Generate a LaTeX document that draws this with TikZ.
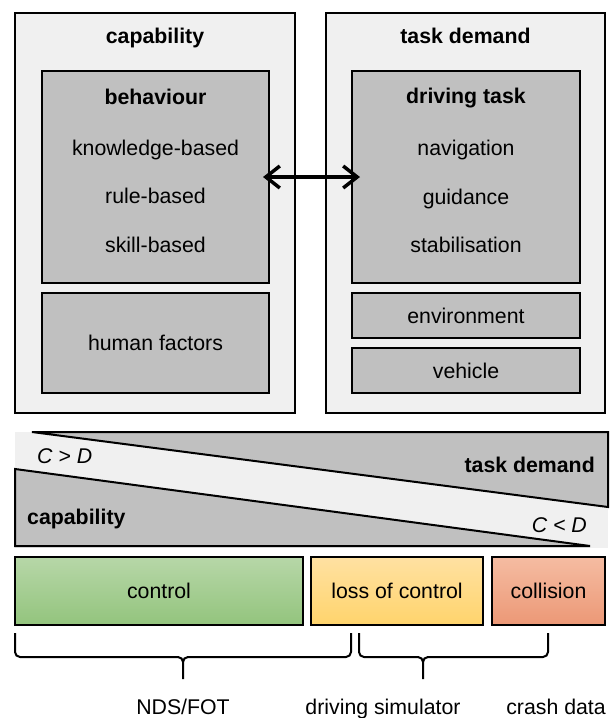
\documentclass[tikz,border=0pt]{standalone}
\usepackage{fontspec}
\setmainfont{Liberation Sans}
\usepackage{tikz}
\usetikzlibrary{arrows.meta}
\definecolor{panelgray}{RGB}{240,240,240}
\definecolor{boxgray}{RGB}{192,192,192}
\definecolor{ctrltop}{RGB}{183,215,168}
\definecolor{ctrlbot}{RGB}{147,196,125}
\definecolor{losstop}{RGB}{255,225,162}
\definecolor{lossbot}{RGB}{255,212,108}
\definecolor{colltop}{RGB}{245,188,162}
\definecolor{collbot}{RGB}{236,152,118}

\begin{document}
\begin{tikzpicture}[x=1pt, y=-1pt,
every node/.style={font=\fontsize{21.3}{24}\selectfont, text height=15.3pt, text depth=0pt, inner sep=0pt},
bold/.style={font=\fontsize{21.3}{24}\selectfont\bfseries},
slanted/.style={font=\fontsize{21.3}{24}\selectfont\itshape},
panel/.style={draw, line width=2pt, fill=panelgray},
graybox/.style={draw, line width=2pt, fill=boxgray},
phase/.style={draw, line width=2pt, minimum height=68},
]
\useasboundingbox (0,0) rectangle (612,718);

% capability and task demand
\node[panel, minimum width=280, minimum height=400] (capbox) at (155,212.5) {};
\node[panel, minimum width=279, minimum height=400] (dembox) at (465.5,212.5) {};
\node[graybox, minimum width=227, minimum height=212] (behav) at (155.5,177) {};
\node[graybox, minimum width=227, minimum height=100] (human) at (155.5,343) {human factors};
\node[graybox, minimum width=228, minimum height=212] (drive) at (466,177) {};
\node[graybox, minimum width=228, minimum height=45] (envir) at (466,315.5) {environment};
\node[graybox, minimum width=228, minimum height=45] (vehic) at (466,370.5) {vehicle};

\node[bold] (captitle) at (155,36) {capability};
\node[bold] (behtitle) at (155.5,97) {behaviour};
\node (knowl) at (155.5,148) {knowledge-based};
\node (rule) at (155.5,196) {rule-based};
\node (skill) at (155.5,245) {skill-based};

\node[bold] (demtitle) at (465.5,36) {task demand};
\node[bold] (drvtitle) at (466,96) {driving task};
\node (navig) at (466,148) {navigation};
\node (guide) at (466,197) {guidance};
\node (stab) at (466,245) {stabilisation};

\draw[{Straight Barb[length=14pt,width=22pt]}-{Straight Barb[length=14pt,width=22pt]}, line width=3.5pt,
  shorten <=-7pt, shorten >=-9pt] (behav.east) -- (drive.west);

% wedges
\fill[panelgray] (15,432) rectangle (608,548);
\draw[line width=2pt, fill=boxgray] (32,432) -- (608,432) -- (608,507) -- cycle;
\draw[line width=2pt, fill=boxgray] (15,469) -- (590,546) -- (15,546) -- cycle;
\node[slanted, anchor=west] (cgtd) at (37,456) {C > D};
\node[bold, anchor=east] (demlabel) at (595,465) {task demand};
\node[bold, anchor=west] (caplabel) at (27,517) {capability};
\node[slanted, anchor=east] (cltd) at (587,525) {C < D};

% phases
\node[phase, top color=ctrltop, bottom color=ctrlbot, minimum width=288] (ctrl) at (159,591) {control};
\node[phase, top color=losstop, bottom color=lossbot, minimum width=172] (loss) at (397,591) {loss of control};
\node[phase, top color=colltop, bottom color=collbot, minimum width=113] (coll) at (548.5,591) {collision};

\draw[line width=2pt, rounded corners=5pt] (15,633) -- (15,657) -- (183,657) -- (183,679)
  (351,633) -- (351,657) -- (183,657) -- (183,679);
\draw[line width=2pt, rounded corners=5pt] (359,633) -- (359,657) -- (423,657) -- (423,679)
  (548,633) -- (548,657) -- (423,657) -- (423,679);

\node (nds) at (183,707) {NDS/FOT};
\node (sim) at (383,707) {driving simulator};
\node (crash) at (556,707) {crash data};
\end{tikzpicture}
\end{document}
